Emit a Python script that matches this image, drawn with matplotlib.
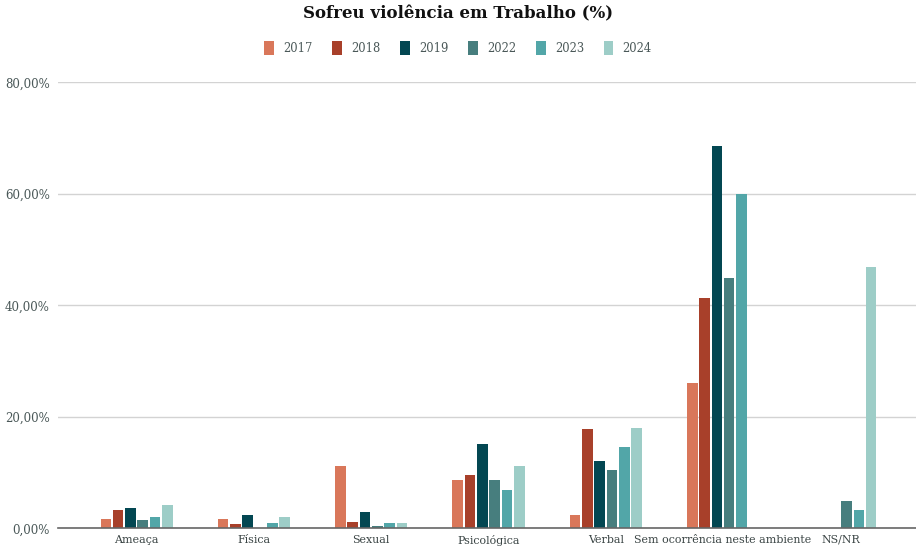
import numpy as np
import matplotlib
matplotlib.use("Agg")
import matplotlib.pyplot as plt
from matplotlib.patches import Patch

categories = ["Ameaça", "Física", "Sexual", "Psicológica", "Verbal",
              "Sem ocorrência neste ambiente", "NS/NR"]
years = ["2017", "2018", "2019", "2022", "2023", "2024"]
nan = np.nan
v2017 = [1.7, 1.7, 11.1, 8.6, 2.4, 26.1, nan]
v2018 = [3.2, 0.8, 1.1, 9.5, 17.8, 41.3, nan]
v2019 = [3.6, 2.3, 3.0, 15.1, 12.0, 68.6, nan]
v2022 = [1.4, nan, 0.4, 8.6, 10.5, 44.9, 4.9]
v2023 = [2.1, 0.9, 0.95, 6.8, 14.6, 60.0, 3.2]
v2024 = [4.1, 2.1, 0.95, 11.1, 18.0, nan, 46.9]
series = [v2017, v2018, v2019, v2022, v2023, v2024]
colors = ["#D9775A", "#A8402A", "#034752", "#477E7E", "#52A6A8", "#9DCDC7"]
yticks = [0, 20, 40, 60, 80]
ytick_labels = ["0,00%", "20,00%", "40,00%", "60,00%", "80,00%"]

FONT = "DejaVu Serif"
plt.rcParams["font.family"] = FONT

fig = plt.figure(figsize=(9.16, 5.49), dpi=100)
ax = fig.add_axes([58/916, (549-528.3)/549, (916-58)/916, (528.3-82.3)/549])

x = np.arange(len(categories))
step = 0.105
width = 0.09
for i, (vals, c, yr) in enumerate(zip(series, colors, years)):
    ax.bar(x + (i - 2.5) * step, vals, width=width, color=c, label=yr, zorder=3)

ax.set_ylim(0, 80)
ax.set_xlim(-0.5 - 0.17, 6.5 + 0.145)
ax.set_yticks(yticks)
ax.set_yticklabels(ytick_labels, color="#4A5858", fontsize=8.5)
ax.set_xticks(x)
ax.set_xticklabels(categories, color="#3A4444", fontsize=7.9)
ax.tick_params(axis="both", length=0)
ax.tick_params(axis="y", pad=6)
ax.tick_params(axis="x", pad=4.5)
ax.grid(axis="y", color="#D3D3D3", linewidth=1, zorder=0)
for s in ["top", "right", "left"]:
    ax.spines[s].set_visible(False)
ax.spines["bottom"].set_color("#666666")
ax.spines["bottom"].set_linewidth(1.2)
ax.spines["bottom"].set_zorder(4)

fig.text(0.5, 1 - 14/549, "Sofreu violência em Trabalho (%)", ha="center", va="center",
         fontsize=12, fontweight="bold", color="#111111")
handles = [Patch(facecolor=c, edgecolor="none") for c in colors]
fig.legend(handles, years, loc="center", bbox_to_anchor=(0.5, 1 - 48/549), ncol=6,
           frameon=False, handlelength=0.85, handleheight=1.4, handletextpad=0.8,
           columnspacing=1.7, fontsize=8.3, labelcolor="#4A5858")

fig.savefig("out.png", dpi=100, facecolor="white")
